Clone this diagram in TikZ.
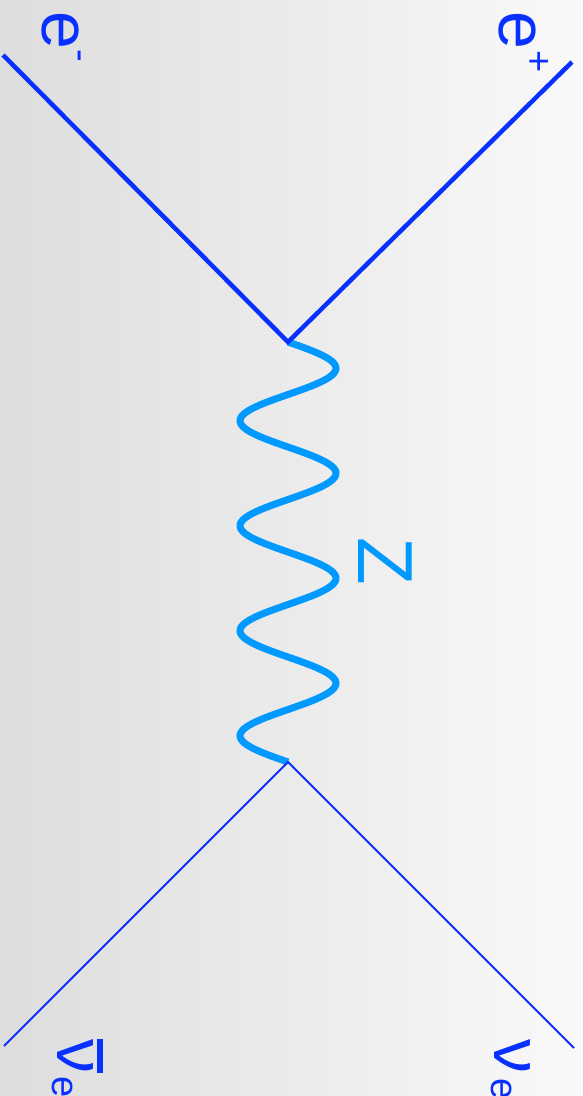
\documentclass[tikz,border=0pt]{standalone}
\usepackage{fontspec}
\setmainfont{Liberation Sans}
\definecolor{eblue}{RGB}{8,48,255}
\definecolor{zblue}{RGB}{0,153,255}
\definecolor{bgl}{RGB}{221,221,221}
\definecolor{bgr}{RGB}{249,249,249}
\begin{document}
\begin{tikzpicture}[x=1pt,y=-1pt,
  lbl/.style={text=eblue, inner sep=0pt, rotate=-90, font=\fontsize{68}{68}\selectfont},
  sublbl/.style={text=eblue, inner sep=0pt, rotate=-90, font=\fontsize{38}{38}\selectfont},
  eline/.style={draw=eblue, line width=4.5pt},
  nuline/.style={draw=eblue, line width=2pt},
  zwave/.style={draw=zblue, line width=7pt},
  zlbl/.style={text=zblue, inner sep=0pt, rotate=-90, font=\fontsize{78}{78}\selectfont}]
\useasboundingbox (0,0) rectangle (583,1096);
\shade[left color=bgl, right color=bgr] (0,0) rectangle (583,1096);
\coordinate (v1) at (288,342);
\coordinate (v2) at (288,762);
\coordinate (em) at (3,55);
\coordinate (ep) at (572,62);
\coordinate (nub) at (4,1046);
\coordinate (nu) at (574,1048);
\draw[zwave, shift={(v1)}] plot[domain=0:420, samples=240, smooth]
  ({48*sin(\x*3.4285714)}, {\x});
\draw[eline] (em) -- (v1) -- (ep);
\draw[nuline] (nub) -- (v2) -- (nu);
\node[lbl] (le) at (60,30) {e};
\node[sublbl] (lem) at (75,56) {-};
\node[lbl] (lp) at (517,30) {e};
\node[sublbl] (lpp) at (537,62) {+};
\node[lbl] (lnub) at (80.5,1056) {\vbox{\hrule height 6pt\kern 4pt\hbox{ν}}};
\node[sublbl] (lnube) at (63,1087) {e};
\node[lbl] (lnu) at (512,1056) {ν};
\node[sublbl] (lnue) at (502,1089) {e};
\node[zlbl] (lz) at (385,561) {Z};
\end{tikzpicture}
\end{document}
